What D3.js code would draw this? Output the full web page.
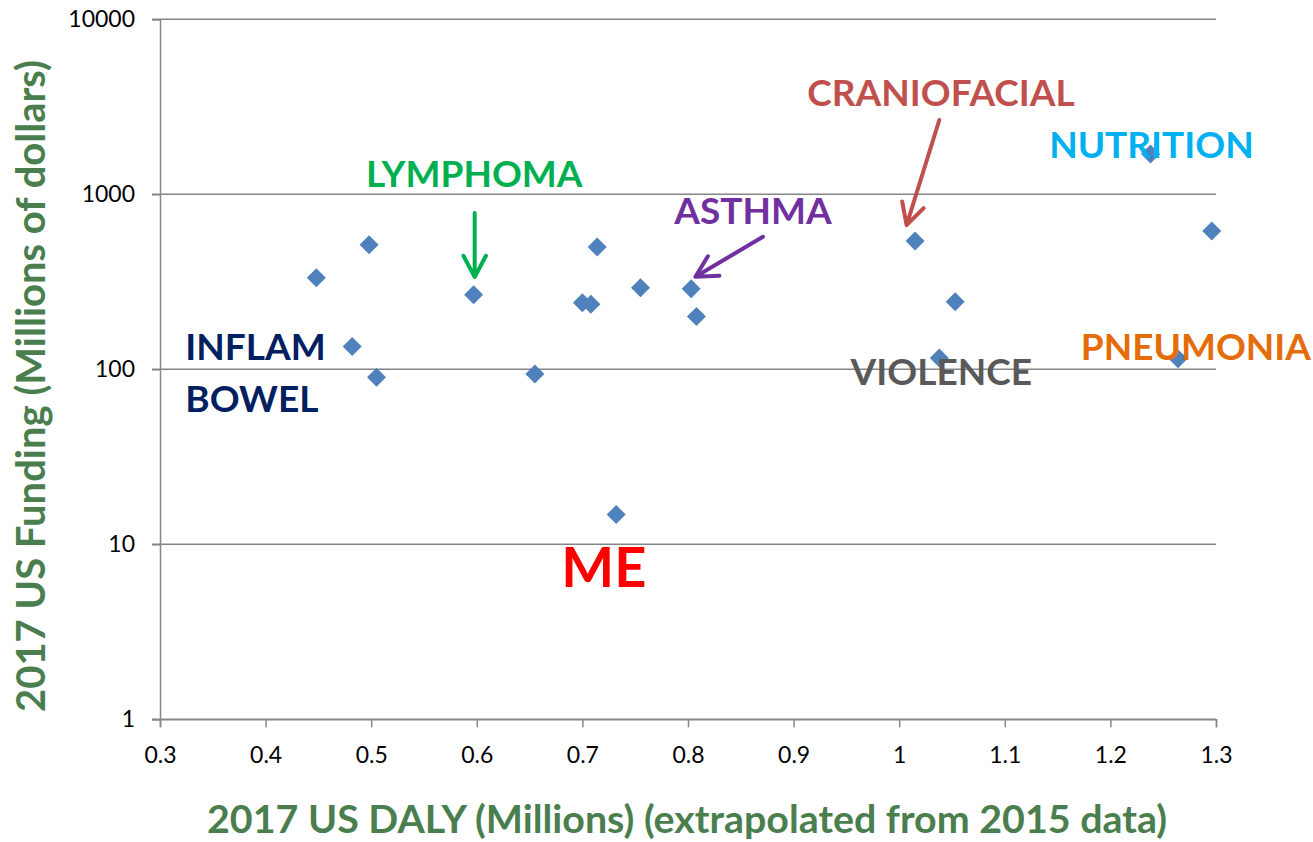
<!DOCTYPE html>
<html>
<head>
<meta charset="utf-8">
<script src="https://cdn.jsdelivr.net/npm/d3@7"></script>
<style>
  body { margin: 0; background: #fff; }
  text { font-family: Lato, "Open Sans", sans-serif; }
</style>
</head>
<body>
<svg id="chart"></svg>
<script>
// points: DALY (millions) vs funding (millions $)
var daly = [0.448, 0.498, 0.482, 0.505, 0.597, 0.655, 0.700, 0.708, 0.714, 0.732,
  0.755, 0.803, 0.808, 1.015, 1.053, 1.038, 1.238, 1.296, 1.264]
var funding = [333, 515, 135, 90, 267, 94, 240, 235, 500, 14.8,
  292, 289, 200, 541, 243, 116, 1700, 617, 115]

var xTicks = [0.3, 0.4, 0.5, 0.6, 0.7, 0.8, 0.9, 1, 1.1, 1.2, 1.3]
var yTicks = [1, 10, 100, 1000, 10000]

// annotation labels, anchored in data space (left edge, baseline)
var labelText = ["LYMPHOMA", "ASTHMA", "CRANIOFACIAL", "NUTRITION", "PNEUMONIA",
  "VIOLENCE", "INFLAM", "BOWEL", "ME"]
var labelDaly = [0.495, 0.787, 0.913, 1.142, 1.172, 0.954, 0.324, 0.324, 0.680]
var labelFunding = [1096, 677, 3196, 1606, 113, 81.4, 113, 57.2, 5.68]
var labelColor = ["#00B050", "#7030A0", "#C0504D", "#00B0F0", "#E46C0A",
  "#595959", "#002060", "#002060", "#FF0000"]

// arrows from label towards a point
var arrowFrom = [[0.598, 782], [0.871, 572], [1.038, 2658]]
var arrowTo = [[0.598, 337], [0.807, 338], [1.007, 667]]
var arrowColor = ["#00B050", "#7030A0", "#C0504D"]

var width = 1313, height = 842
var svg = d3.select("#chart").attr("width", width).attr("height", height)

var x = d3.scaleLinear().domain([0.3, 1.3]).range([160, 1216])
var y = d3.scaleLog().domain([1, 10000]).range([719.3, 19.3])

var axisColor = "#868686"

// gridlines
svg.append("g")
  .selectAll("line")
  .data(yTicks)
  .enter()
  .append("line")
  .attr("x1", 152)
  .attr("x2", x(1.3))
  .attr("y1", function(d) { return y(d) })
  .attr("y2", function(d) { return y(d) })
  .attr("stroke", axisColor)
  .attr("stroke-width", 1.5)

// y axis
var yAxis = svg.append("g")
  .attr("transform", "translate(" + x(0.3) + ",0)")
  .call(d3.axisLeft(y).tickValues(yTicks).tickFormat(d3.format("d")).tickSize(8).tickPadding(17))
yAxis.select(".domain").attr("stroke", axisColor).attr("stroke-width", 1.5)
yAxis.selectAll(".tick line").attr("stroke", axisColor).attr("stroke-width", 1.5)
yAxis.selectAll(".tick text")
  .attr("font-size", 23)
  .attr("font-family", "Lato, sans-serif")
  .attr("fill", "#000")

// x axis
var xAxis = svg.append("g")
  .attr("transform", "translate(0," + y(1) + ")")
  .call(d3.axisBottom(x).tickValues(xTicks).tickFormat(d3.format("")).tickSize(8).tickSizeOuter(8).tickPadding(19))
xAxis.select(".domain").attr("stroke", axisColor).attr("stroke-width", 1.5)
xAxis.selectAll(".tick line").attr("stroke", axisColor).attr("stroke-width", 1.5)
xAxis.selectAll(".tick text")
  .attr("font-size", 23)
  .attr("font-family", "Lato, sans-serif")
  .attr("fill", "#000")

// axis titles
svg.append("text")
  .attr("text-anchor", "middle")
  .attr("x", 687)
  .attr("y", 833)
  .attr("fill", "#4A7E4E")
  .attr("font-weight", "bold")
  .attr("font-size", 39)
  .attr("textLength", 960)
  .attr("lengthAdjust", "spacingAndGlyphs")
  .text("2017 US DALY (Millions) (extrapolated from 2015 data)")

svg.append("text")
  .attr("text-anchor", "middle")
  .attr("transform", "translate(45,386) rotate(-90)")
  .attr("fill", "#4A7E4E")
  .attr("font-weight", "bold")
  .attr("font-size", 40)
  .attr("textLength", 652)
  .attr("lengthAdjust", "spacingAndGlyphs")
  .text("2017 US Funding (Millions of dollars)")

// markers
var r = 9.5
svg.append("g")
  .selectAll("path")
  .data(d3.range(daly.length))
  .enter()
  .append("path")
  .attr("d", function(i) {
    var cx = x(daly[i]), cy = y(funding[i])
    return "M" + cx + "," + (cy - r) + "L" + (cx + r) + "," + cy +
      "L" + cx + "," + (cy + r) + "L" + (cx - r) + "," + cy + "Z"
  })
  .attr("fill", "#4F81BD")

// arrows
var arrows = svg.append("g")
d3.range(arrowFrom.length).forEach(function(i) {
  var x1 = x(arrowFrom[i][0]), y1 = y(arrowFrom[i][1])
  var x2 = x(arrowTo[i][0]), y2 = y(arrowTo[i][1])
  var ang = Math.atan2(y2 - y1, x2 - x1)
  var len = 24, spread = 28 * Math.PI / 180
  var a1 = [x2 - len * Math.cos(ang - spread), y2 - len * Math.sin(ang - spread)]
  var a2 = [x2 - len * Math.cos(ang + spread), y2 - len * Math.sin(ang + spread)]
  arrows.append("path")
    .attr("d", "M" + x1 + "," + y1 + "L" + x2 + "," + y2 +
      "M" + a1[0] + "," + a1[1] + "L" + x2 + "," + y2 + "L" + a2[0] + "," + a2[1])
    .attr("fill", "none")
    .attr("stroke", arrowColor[i])
    .attr("stroke-width", 4)
    .attr("stroke-linecap", "round")
    .attr("stroke-linejoin", "round")
})

// labels
svg.append("g")
  .selectAll("text")
  .data(d3.range(labelText.length))
  .enter()
  .append("text")
  .attr("x", function(i) { return x(labelDaly[i]) })
  .attr("y", function(i) { return y(labelFunding[i]) })
  .attr("fill", function(i) { return labelColor[i] })
  .attr("font-weight", "bold")
  .attr("font-size", function(i) { return labelText[i] === "ME" ? 56 : 37 })
  .text(function(i) { return labelText[i] })
</script>
</body>
</html>
